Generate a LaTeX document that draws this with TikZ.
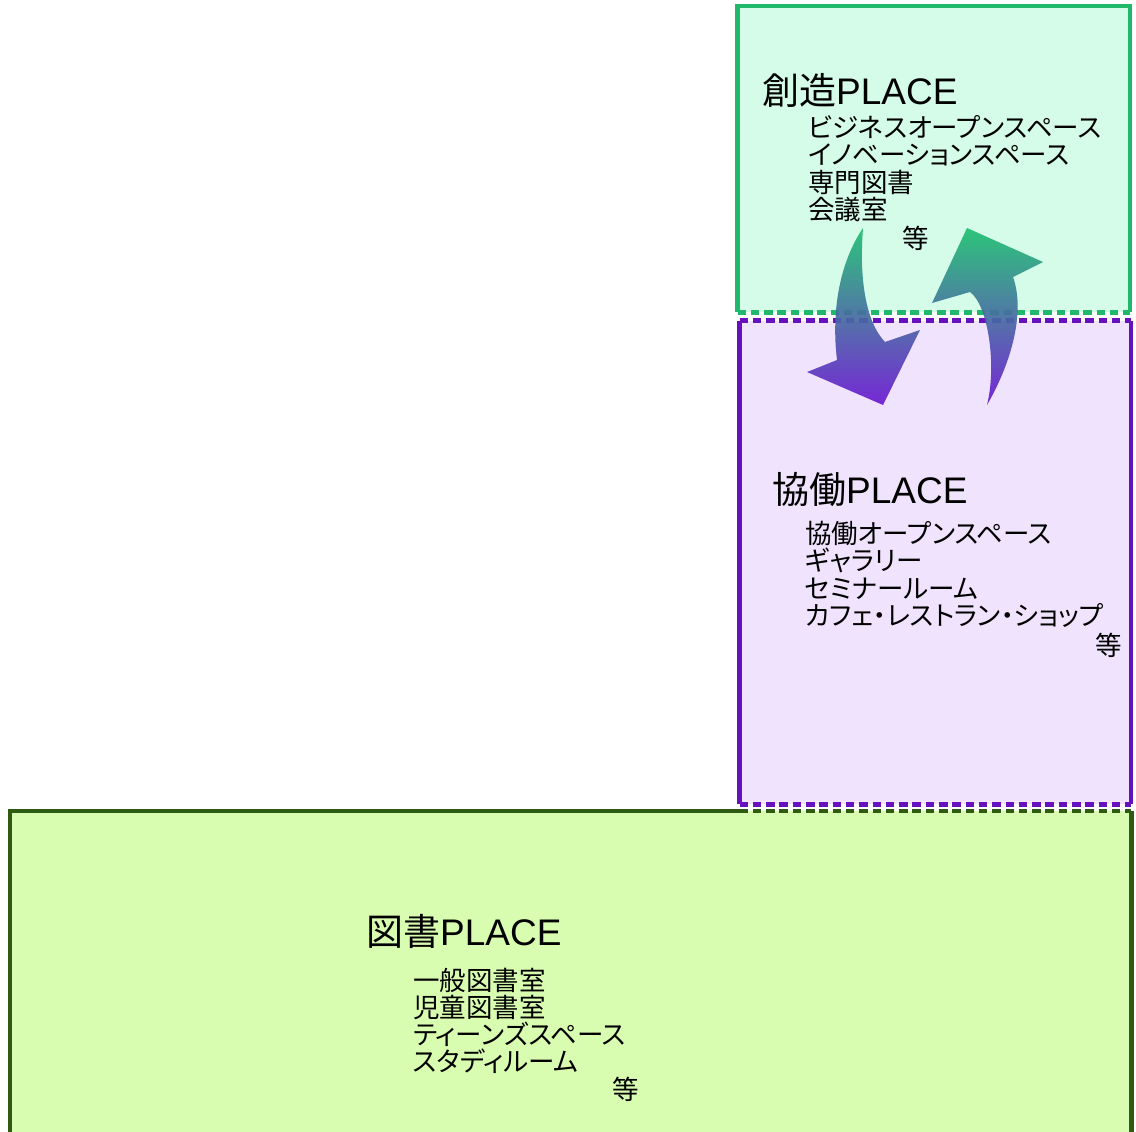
\documentclass[tikz,border=0pt]{standalone}
\usepackage{fontspec}
\newfontfamily\jpfont[RawFeature=+palt]{Noto Sans CJK JP}
\newfontfamily\latfont{Liberation Sans}
\definecolor{createfill}{HTML}{D5FCE9}
\definecolor{createline}{HTML}{20B96B}
\definecolor{collabfill}{HTML}{F0E3FD}
\definecolor{collabline}{HTML}{6610BE}
\definecolor{libfill}{HTML}{D9FDB0}
\definecolor{libline}{HTML}{2E5A12}
\definecolor{arrowtop}{HTML}{1FC071}
\definecolor{arrowbot}{HTML}{6C18D2}
\tikzset{
  area/.style={draw=none, inner sep=0pt, anchor=north west},
  edge/.style={line width=4.5pt, line join=miter},
  dashedge/.style={line width=4.5pt, dash pattern=on 8.5pt off 4.8pt},
  head/.style={anchor=base west, inner sep=0pt, font=\fontsize{37}{41}\selectfont},
  item/.style={anchor=base west, inner sep=0pt, font=\jpfont\fontsize{26.5}{27.5}\selectfont},
  swirl/.style={top color=arrowtop, bottom color=arrowbot, opacity=0.92}
}
\begin{document}
\begin{tikzpicture}[x=1pt,y=-1pt]
\useasboundingbox (0,0) rectangle (1136,1132);
\fill[white] (0,0) rectangle (1136,1132);
% areas
\node[area, fill=createfill, minimum width=392pt, minimum height=306pt] (create) at (737.5,6) {};
\node[area, fill=collabfill, minimum width=391pt, minimum height=483.5pt] (collab) at (739.5,320.5) {};
\node[area, fill=libfill, minimum width=1121pt, minimum height=340pt] (lib) at (10,811) {};
% borders of the create area
\draw[edge, createline] (create.south west) -- (create.north west) -- (create.north east) -- (create.south east);
\draw[dashedge, createline] (create.south west) -- (create.south east);
% borders of the collab area
\draw[edge, collabline] (collab.north west) -- (collab.south west);
\draw[edge, collabline] (collab.north east) -- (collab.south east);
\draw[dashedge, collabline] (collab.north west) -- (collab.north east);
\draw[dashedge, collabline] (collab.south west) -- (collab.south east);
% borders of the library area
\coordinate (libjoin) at (lib.north west -| collab.west);
\draw[edge, libline] (lib.south west) -- (lib.north west) -- (libjoin);
\draw[dashedge, libline] (libjoin) -- (lib.north east);
\draw[edge, libline] (lib.north east) -- (lib.south east);
% cycling arrows
\shade[swirl] (863,228) .. controls (840,262) and (831,310) .. (837,360)
  -- (807,372) -- (883,405) -- (920,330) -- (885,342)
  .. controls (866,322) and (859,280) .. (863,228) -- cycle;
\shade[swirl] (987,405) .. controls (1013,360) and (1025,310) .. (1013,277)
  -- (1043,262) -- (967,228) -- (932,303) -- (970,292)
  .. controls (988,305) and (997,365) .. (987,405) -- cycle;
% create texts
\node[head] (createtitle) at (762,104) {\jpfont 創造\latfont PLACE};
\node[item] (c1) at (808,137) {ビジネスオープンスペース};
\node[item] (c2) at (808,164.5) {イノベーションスペース};
\node[item] (c3) at (808,192) {専門図書};
\node[item] (c4) at (808,219.5) {会議室};
\node[item] (c5) at (902,248) {等};
% collab texts
\node[head] (collabtitle) at (772,503) {\jpfont 協働\latfont PLACE};
\node[item] (k1) at (805,543) {協働オープンスペース};
\node[item] (k2) at (805,570.5) {ギャラリー};
\node[item] (k3) at (805,598) {セミナールーム};
\node[item] (k4) at (805,625.5) {カフェ・レストラン・ショップ};
\node[item] (k5) at (1095,655) {等};
% library texts
\node[head] (libtitle) at (366,945) {\jpfont 図書\latfont PLACE};
\node[item] (l1) at (413,990) {一般図書室};
\node[item] (l2) at (413,1017) {児童図書室};
\node[item] (l3) at (413,1044) {ティーンズスペース};
\node[item] (l4) at (413,1071) {スタディルーム};
\node[item] (l5) at (612,1099) {等};
\end{tikzpicture}
\end{document}
